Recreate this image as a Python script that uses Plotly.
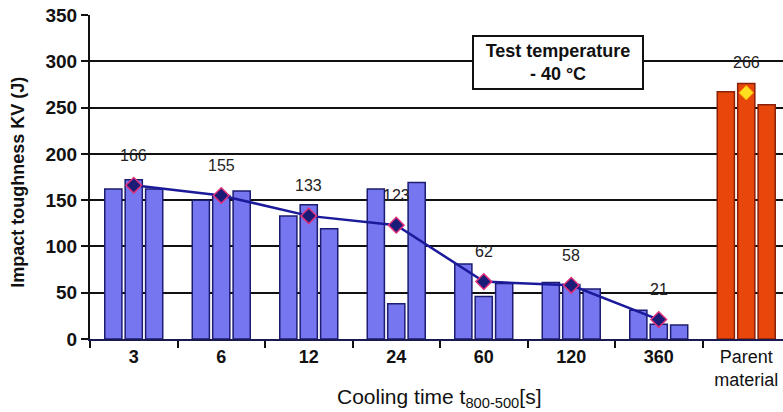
import plotly.graph_objects as go

categories = ["3", "6", "12", "24", "60", "120", "360", "Parent<br>material"]
tick_labels = ["<b>3</b>", "<b>6</b>", "<b>12</b>", "<b>24</b>", "<b>60</b>",
               "<b>120</b>", "<b>360</b>", "Parent<br>material"]
sample1 = [162, 150, 133, 162, 81, 61, 31, 267]
sample2 = [172, 155, 145, 38, 46, 59, 16, 276]
sample3 = [162, 160, 119, 169, 60, 54, 15, 253]
means = [166, 155, 133, 123, 62, 58, 21, 266]
mean_labels = ["166", "155", "133", "123", "62", "58", "21", "266"]

BLUE = "#7676f0"
ORANGE = "#e8470c"
bar_colors = [BLUE] * 7 + [ORANGE]
bar_lines = ["#1c1c70"] * 7 + ["#8a2008"]

FONT = "Arial, Liberation Sans, sans-serif"
fig = go.Figure()
for vals in (sample1, sample2, sample3):
    fig.add_trace(go.Bar(
        x=categories, y=vals,
        marker=dict(color=bar_colors, line=dict(color=bar_lines, width=1.5)),
        showlegend=False, hoverinfo="skip"))

fig.add_trace(go.Scatter(
    x=categories[:7], y=means[:7], mode="lines+markers",
    line=dict(color="#1a1a9a", width=2.5),
    marker=dict(symbol="diamond", size=12, color="#1b1b78",
                line=dict(color="#e0307a", width=1.5)),
    showlegend=False))
fig.add_trace(go.Scatter(
    x=categories[7:], y=means[7:], mode="markers",
    marker=dict(symbol="diamond", size=11, color="#ffe020",
                line=dict(color="#ffb000", width=1)),
    showlegend=False))

for i, (m, t) in enumerate(zip(means, mean_labels)):
    fig.add_annotation(x=i, y=m, text=t, showarrow=False, yshift=30,
                       font=dict(family=FONT, size=16, color="#222"))

fig.add_annotation(
    x=0.675, y=0.853, xref="paper", yref="paper", xanchor="center", yanchor="middle",
    text="<b>Test temperature<br>- 40 °C</b>", showarrow=False,
    font=dict(family=FONT, size=18, color="#111"), width=164, height=47,
    bgcolor="white", bordercolor="#111", borderwidth=2, borderpad=2, align="center")

fig.add_annotation(
    x=0.503, y=-0.182, xref="paper", yref="paper", xanchor="center", yanchor="middle",
    text="Cooling time t<sub>800-500</sub>[s]", showarrow=False,
    font=dict(family=FONT, size=21, color="#111"))

fig.add_annotation(
    x=-0.104, y=0.485, xref="paper", yref="paper", xanchor="center", yanchor="middle",
    text="<b>Impact toughness KV (J)</b>", showarrow=False, textangle=-90,
    font=dict(family=FONT, size=18, color="#111"))

fig.update_layout(
    width=783, height=412,
    margin=dict(l=90, r=0, t=15, b=73),
    paper_bgcolor="white", plot_bgcolor="white",
    barmode="group", bargap=0.3, bargroupgap=0.16,
    font=dict(family=FONT, size=18, color="#111"),
)
fig.update_xaxes(
    range=[-0.5, 7.42], showline=True, linecolor="#1a1a50", linewidth=2,
    ticks="outside", tickson="boundaries", ticklen=7, tickwidth=2, tickcolor="#111",
    tickmode="array", tickvals=categories, ticktext=tick_labels,
    tickfont=dict(family=FONT, size=18, color="#111"),
    showgrid=False)
fig.update_yaxes(
    range=[0, 350], dtick=50, showline=True, linecolor="#111", linewidth=2,
    ticks="outside", ticklen=7, tickwidth=2, tickcolor="#111",
    showgrid=True, gridcolor="#111", gridwidth=2,
    tickfont=dict(family=FONT, size=19, color="#111"),
    tickprefix="<b>", ticksuffix="</b>",
    zeroline=False)

fig.write_html("out.html")
